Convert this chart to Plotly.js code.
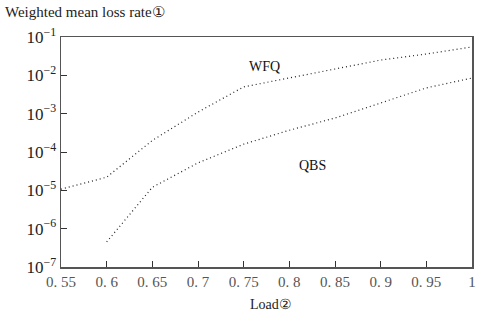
<!DOCTYPE html>
<html>
<head>
<meta charset="utf-8">
<script src="https://cdn.plot.ly/plotly-3.0.1.min.js"></script>
<style>html,body{margin:0;padding:0;background:#fff;}#chart{width:481px;height:321px;}</style>
</head>
<body>
<div id="chart"></div>
<script>
const loadWFQ = [0.55, 0.6, 0.65, 0.7, 0.75, 0.8, 0.85, 0.9, 0.95, 1.0];
const lossWFQ = [1.07e-5, 2.2e-5, 2.0e-4, 1.1e-3, 5.0e-3, 8.5e-3, 1.47e-2, 2.5e-2, 3.6e-2, 5.5e-2];
const loadQBS = [0.6, 0.65, 0.7, 0.75, 0.8, 0.85, 0.9, 0.95, 1.0];
const lossQBS = [4.5e-7, 1.2e-5, 5.2e-5, 1.6e-4, 3.7e-4, 7.7e-4, 1.9e-3, 4.7e-3, 8.5e-3];
const xTickVals = [0.55, 0.6, 0.65, 0.7, 0.75, 0.8, 0.85, 0.9, 0.95, 1];
const xTickText = ['0. 55', '0. 6', '0. 65', '0. 7', '0. 75', '0. 8', '0. 85', '0. 9', '0. 95', '1'];
const yTickVals = [1e-1, 1e-2, 1e-3, 1e-4, 1e-5, 1e-6, 1e-7];
const yTickText = ['10<sup>−1</sup>', '10<sup>−2</sup>', '10<sup>−3</sup>', '10<sup>−4</sup>', '10<sup>−5</sup>', '10<sup>−6</sup>', '10<sup>−7</sup>'];

const serif = '"Liberation Serif", "DejaVu Serif", serif';
const lineStyle = {color: '#222', width: 1.2, dash: '1px,3px'};

const data = [
  {x: loadWFQ, y: lossWFQ, mode: 'lines', line: lineStyle, name: 'WFQ', showlegend: false},
  {x: loadQBS, y: lossQBS, mode: 'lines', line: lineStyle, name: 'QBS', showlegend: false}
];

const layout = {
  width: 481, height: 321,
  margin: {l: 61, r: 9, t: 37, b: 54},
  paper_bgcolor: '#fff', plot_bgcolor: '#fff',
  showlegend: false,
  font: {family: serif, color: '#333', size: 13},
  xaxis: {
    range: [0.55, 1], tickvals: xTickVals, ticktext: xTickText,
    showgrid: false, zeroline: false,
    showline: true, mirror: true, linecolor: '#555', linewidth: 1.5,
    ticks: 'inside', ticklen: 6, tickcolor: '#333',
    tickfont: {family: serif, size: 15, color: '#555'}
  },
  yaxis: {
    type: 'log', range: [-7, -1], tickvals: yTickVals, ticktext: yTickText,
    showgrid: false, zeroline: false,
    showline: true, mirror: true, linecolor: '#555', linewidth: 1.5,
    ticks: 'inside', ticklen: 6, tickcolor: '#333',
    tickfont: {family: serif, size: 17, color: '#222'}
  },
  annotations: [
    {text: 'Weighted mean loss rate①', xref: 'paper', yref: 'paper', x: -0.14, y: 1.065,
     xanchor: 'left', yanchor: 'bottom', showarrow: false, font: {family: serif, size: 15, color: '#222'}},
    {text: 'Load②', xref: 'paper', yref: 'paper', x: 0.51, y: -0.12,
     xanchor: 'center', yanchor: 'top', showarrow: false, font: {family: serif, size: 14, color: '#222'}},
    {text: 'WFQ', x: 0.773, y: -1.76, xref: 'x', yref: 'y', showarrow: false,
     font: {family: serif, size: 14, color: '#111'}},
    {text: 'QBS', x: 0.825, y: -4.34, xref: 'x', yref: 'y', showarrow: false,
     font: {family: serif, size: 14, color: '#111'}}
  ]
};

Plotly.newPlot('chart', data, layout, {staticPlot: true, displayModeBar: false});
</script>
</body>
</html>
